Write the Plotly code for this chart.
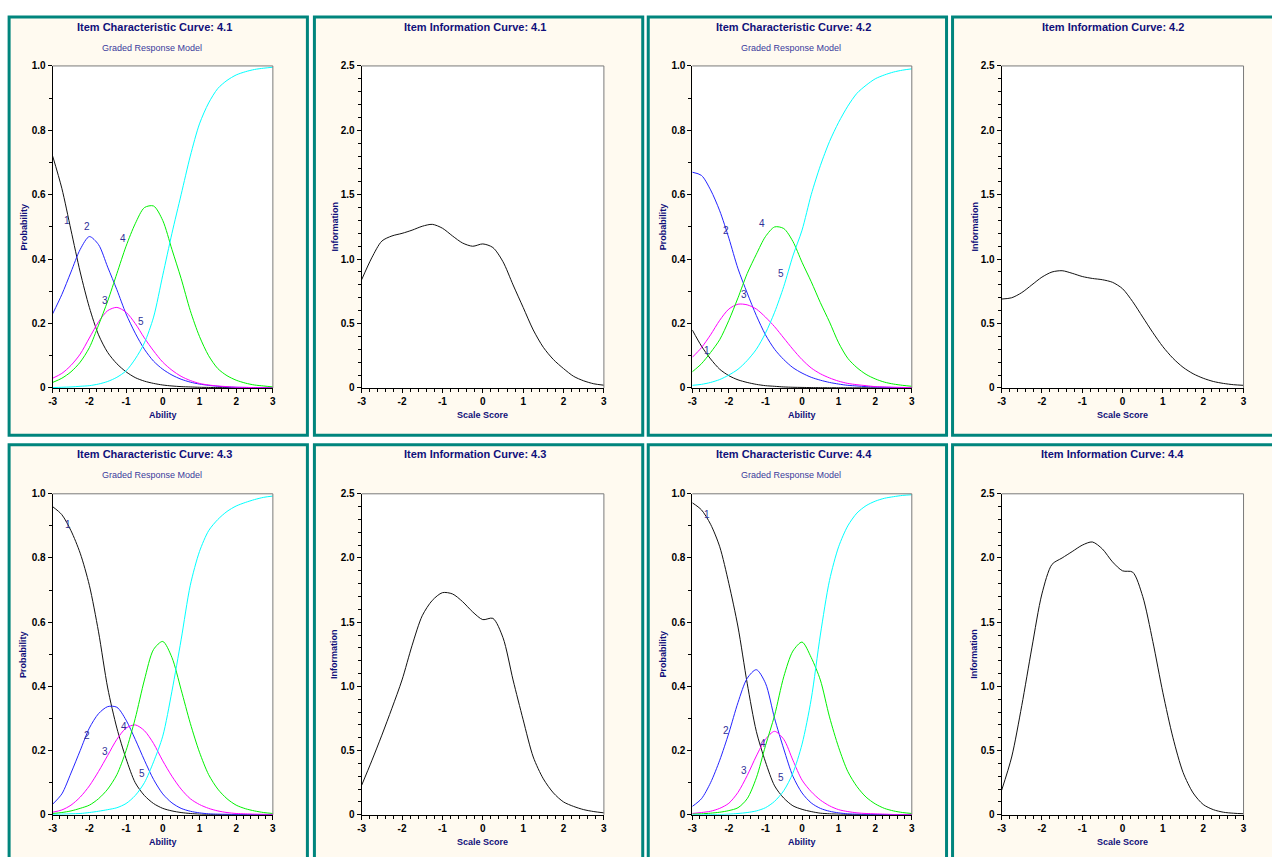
import plotly.graph_objects as go

# ---------------- data ----------------
THETA = [-3.0, -2.75, -2.5, -2.25, -2.0, -1.75, -1.5, -1.25, -1.0, -0.75, -0.5, -0.25,
         0.0, 0.25, 0.5, 0.75, 1.0, 1.25, 1.5, 1.75, 2.0, 2.25, 2.5, 2.75, 3.0]

# Item 4.1 category probabilities (categories 1..5)
icc41_c1 = [0.72, 0.62, 0.49, 0.36, 0.25, 0.165, 0.11, 0.075, 0.05, 0.032, 0.021, 0.014, 0.009, 0.006, 0.004, 0.003, 0.002, 0.0015, 0.001, 0.001, 0.0005, 0.0005, 0.0003, 0.0002, 0.0001]
icc41_c2 = [0.23, 0.29, 0.36, 0.43, 0.47, 0.445, 0.375, 0.305, 0.23, 0.17, 0.12, 0.083, 0.058, 0.04, 0.027, 0.018, 0.012, 0.008, 0.005, 0.003, 0.002, 0.0015, 0.001, 0.0007, 0.0005]
icc41_c3 = [0.03, 0.045, 0.07, 0.105, 0.155, 0.205, 0.24, 0.25, 0.235, 0.2, 0.155, 0.115, 0.08, 0.055, 0.036, 0.023, 0.014, 0.009, 0.006, 0.004, 0.002, 0.0015, 0.001, 0.0007, 0.0005]
icc41_c4 = [0.017, 0.03, 0.05, 0.08, 0.125, 0.195, 0.27, 0.355, 0.44, 0.51, 0.56, 0.565, 0.52, 0.43, 0.34, 0.24, 0.16, 0.1, 0.06, 0.038, 0.024, 0.015, 0.009, 0.006, 0.003]
icc41_c5 = [0.001, 0.002, 0.003, 0.005, 0.007, 0.012, 0.02, 0.033, 0.053, 0.09, 0.14, 0.22, 0.35, 0.48, 0.6, 0.72, 0.82, 0.885, 0.93, 0.955, 0.972, 0.982, 0.989, 0.993, 0.996]
iic41 = [0.84, 1.01, 1.14, 1.18, 1.2, 1.225, 1.255, 1.27, 1.24, 1.18, 1.125, 1.1, 1.118, 1.09, 0.98, 0.8, 0.625, 0.45, 0.315, 0.22, 0.15, 0.09, 0.055, 0.032, 0.021]

# Item 4.2
icc42_c1 = [0.18, 0.13, 0.09, 0.058, 0.038, 0.025, 0.017, 0.011, 0.007, 0.005, 0.003, 0.002, 0.0015, 0.001, 0.0008, 0.0006, 0.0005, 0.0004, 0.0003, 0.0003, 0.0002, 0.0002, 0.0002, 0.0001, 0.0001]
icc42_c2 = [0.67, 0.66, 0.615, 0.55, 0.465, 0.37, 0.295, 0.225, 0.165, 0.12, 0.088, 0.063, 0.046, 0.033, 0.024, 0.017, 0.012, 0.008, 0.006, 0.004, 0.003, 0.002, 0.0015, 0.001, 0.001]
icc42_c3 = [0.095, 0.125, 0.165, 0.21, 0.245, 0.26, 0.258, 0.245, 0.22, 0.19, 0.155, 0.12, 0.088, 0.062, 0.044, 0.031, 0.021, 0.014, 0.01, 0.007, 0.004, 0.003, 0.002, 0.0015, 0.001]
icc42_c4 = [0.05, 0.075, 0.11, 0.15, 0.21, 0.28, 0.355, 0.415, 0.47, 0.5, 0.495, 0.455, 0.39, 0.33, 0.265, 0.205, 0.14, 0.092, 0.063, 0.042, 0.028, 0.018, 0.012, 0.008, 0.005]
icc42_c5 = [0.008, 0.011, 0.017, 0.026, 0.04, 0.058, 0.085, 0.12, 0.17, 0.235, 0.315, 0.41, 0.49, 0.6, 0.69, 0.765, 0.825, 0.875, 0.915, 0.94, 0.96, 0.972, 0.981, 0.987, 0.991]
iic42 = [0.69, 0.70, 0.74, 0.80, 0.86, 0.90, 0.91, 0.89, 0.865, 0.85, 0.84, 0.82, 0.77, 0.67, 0.55, 0.43, 0.32, 0.23, 0.16, 0.11, 0.075, 0.05, 0.035, 0.025, 0.02]

# Item 4.3
icc43_c1 = [0.96, 0.935, 0.885, 0.815, 0.715, 0.57, 0.395, 0.27, 0.175, 0.1, 0.06, 0.035, 0.02, 0.012, 0.007, 0.004, 0.002, 0.001, 0.0007, 0.0005, 0.0003, 0.0002, 0.0001, 0.0001, 0.0001]
icc43_c2 = [0.033, 0.065, 0.13, 0.2, 0.27, 0.315, 0.337, 0.335, 0.295, 0.235, 0.17, 0.11, 0.065, 0.037, 0.02, 0.011, 0.006, 0.003, 0.002, 0.0015, 0.001, 0.0007, 0.0005, 0.0003, 0.0002]
icc43_c3 = [0.008, 0.015, 0.03, 0.055, 0.09, 0.135, 0.185, 0.235, 0.27, 0.28, 0.262, 0.222, 0.168, 0.12, 0.08, 0.05, 0.032, 0.02, 0.012, 0.007, 0.004, 0.003, 0.002, 0.0015, 0.001]
icc43_c4 = [0.004, 0.007, 0.012, 0.02, 0.03, 0.05, 0.08, 0.125, 0.2, 0.3, 0.42, 0.515, 0.54, 0.49, 0.39, 0.285, 0.195, 0.125, 0.08, 0.05, 0.03, 0.019, 0.012, 0.007, 0.004]
icc43_c5 = [0.001, 0.002, 0.003, 0.004, 0.007, 0.011, 0.016, 0.022, 0.035, 0.06, 0.1, 0.165, 0.245, 0.385, 0.545, 0.715, 0.82, 0.885, 0.92, 0.945, 0.962, 0.973, 0.982, 0.989, 0.993]
iic43 = [0.23, 0.42, 0.62, 0.83, 1.05, 1.32, 1.55, 1.67, 1.73, 1.72, 1.66, 1.58, 1.52, 1.53, 1.38, 1.05, 0.74, 0.45, 0.28, 0.17, 0.1, 0.065, 0.04, 0.025, 0.015]

# Item 4.4
icc44_c1 = [0.972, 0.95, 0.905, 0.835, 0.72, 0.585, 0.41, 0.26, 0.165, 0.09, 0.052, 0.028, 0.017, 0.01, 0.005, 0.003, 0.002, 0.001, 0.0007, 0.0005, 0.0003, 0.0002, 0.0001, 0.0001, 0.0001]
icc44_c2 = [0.026, 0.05, 0.1, 0.17, 0.255, 0.35, 0.425, 0.452, 0.41, 0.3, 0.205, 0.12, 0.068, 0.037, 0.02, 0.011, 0.006, 0.003, 0.002, 0.0015, 0.001, 0.0007, 0.0005, 0.0003, 0.0002]
icc44_c3 = [0.004, 0.007, 0.011, 0.02, 0.036, 0.07, 0.122, 0.183, 0.235, 0.26, 0.235, 0.17, 0.108, 0.072, 0.046, 0.028, 0.016, 0.01, 0.006, 0.004, 0.003, 0.002, 0.001, 0.001, 0.001]
icc44_c4 = [0.002, 0.003, 0.005, 0.008, 0.013, 0.022, 0.05, 0.115, 0.215, 0.31, 0.43, 0.51, 0.538, 0.49, 0.42, 0.305, 0.21, 0.135, 0.088, 0.055, 0.034, 0.02, 0.012, 0.007, 0.004]
icc44_c5 = [0.0, 0.0, 0.001, 0.001, 0.002, 0.004, 0.007, 0.012, 0.022, 0.042, 0.075, 0.13, 0.22, 0.36, 0.56, 0.73, 0.835, 0.9, 0.94, 0.963, 0.977, 0.986, 0.991, 0.995, 0.997]
iic44 = [0.19, 0.45, 0.85, 1.3, 1.72, 1.95, 2.0, 2.05, 2.1, 2.125, 2.07, 1.97, 1.9, 1.89, 1.7, 1.35, 0.95, 0.6, 0.33, 0.17, 0.08, 0.04, 0.02, 0.012, 0.008]

CATEGORY_NAMES = ["1", "2", "3", "4", "5"]
ITEMS = ["4.1", "4.2", "4.3", "4.4"]

# curve-number label positions (theta, probability) per item
label41 = [(-2.62, 0.52), (-2.07, 0.50), (-1.58, 0.27), (-1.09, 0.465), (-0.6, 0.207)]
label42 = [(-2.59, 0.117), (-2.08, 0.49), (-1.58, 0.29), (-1.09, 0.51), (-0.57, 0.356)]
label43 = [(-2.57, 0.905), (-2.07, 0.247), (-1.56, 0.197), (-1.06, 0.274), (-0.56, 0.129)]
label44 = [(-2.59, 0.936), (-2.09, 0.262), (-1.59, 0.138), (-1.08, 0.221), (-0.58, 0.115)]

X_TICKS = [-3, -2, -1, 0, 1, 2, 3]
X_TICK_TEXT = ["-3", "-2", "-1", "0", "1", "2", "3"]
P_TICKS = [0, 0.2, 0.4, 0.6, 0.8, 1.0]
P_TICK_TEXT = ["0", "0.2", "0.4", "0.6", "0.8", "1.0"]
I_TICKS = [0, 0.5, 1.0, 1.5, 2.0, 2.5]
I_TICK_TEXT = ["0", "0.5", "1.0", "1.5", "2.0", "2.5"]

icc_sets = [
    [icc41_c1, icc41_c2, icc41_c3, icc41_c4, icc41_c5],
    [icc42_c1, icc42_c2, icc42_c3, icc42_c4, icc42_c5],
    [icc43_c1, icc43_c2, icc43_c3, icc43_c4, icc43_c5],
    [icc44_c1, icc44_c2, icc44_c3, icc44_c4, icc44_c5],
]
iic_sets = [iic41, iic42, iic43, iic44]
label_sets = [label41, label42, label43, label44]

# ---------------- styling / layout ----------------
W, H = 1272, 857
CURVE_COLORS = ["#111111", "#2323ff", "#ff00ff", "#00f000", "#00ffff"]
TEAL = "#00857d"
CREAM = "#fffaf0"
NAVY = "#10107a"
FONT = "Liberation Sans, Arial, sans-serif"

# panel frames and plot boxes, in picture pixels
col_frames = [(9.5, 307.5), (314.5, 642.5), (648.0, 946.0), (952.0, 1290.0)]
row_frames = [(15.5, 434.0), (443.5, 875.0)]
icc_plot_x = [(53.0, 273.0), (692.0, 911.3)]
iic_plot_x = [(361.7, 603.7), (1001.0, 1242.7)]
row_plot_y = [(64.4, 386.7), (492.7, 814.0)]

# observed page->photo mapping of the renderer (photo = S * css + B)
SX, BX = 0.9935, 4.4
SY, BY = 0.987, 4.4


def fx(p):
    return ((p - BX) / SX) / W


def fy(p):
    return 1 - ((p - BY) / SY) / H


fig = go.Figure()
shapes = []
annotations = []
layout_axes = {}

for r, (ry0, ry1) in enumerate(row_frames):
    for c, (cx0, cx1) in enumerate(col_frames):
        shapes.append(dict(type="rect", xref="paper", yref="paper", layer="below",
                           x0=fx(cx0), x1=fx(cx1), y0=fy(ry1), y1=fy(ry0),
                           fillcolor=CREAM, line=dict(color=TEAL, width=3)))

tickfont = dict(family=FONT, size=10, color="black", weight="bold")

axis_index = 0
for k, item in enumerate(ITEMS):
    row = k // 2
    colpair = k % 2
    py0, py1 = row_plot_y[row]
    for kind in ("icc", "iic"):
        axis_index += 1
        xn = "x" if axis_index == 1 else f"x{axis_index}"
        yn = "y" if axis_index == 1 else f"y{axis_index}"
        xk = "xaxis" if axis_index == 1 else f"xaxis{axis_index}"
        yk = "yaxis" if axis_index == 1 else f"yaxis{axis_index}"
        px0, px1 = (icc_plot_x if kind == "icc" else iic_plot_x)[colpair]
        shapes.append(dict(type="rect", xref="paper", yref="paper", layer="below",
                           x0=fx(px0), x1=fx(px1), y0=fy(py1), y1=fy(py0),
                           fillcolor="white", line=dict(width=0)))
        layout_axes[xk] = dict(domain=[fx(px0), fx(px1)], range=[-3, 3], anchor=yn,
                               showgrid=False, zeroline=False, showline=True,
                               linecolor="black", linewidth=1, ticks="outside",
                               ticklen=4, tickcolor="black", tickmode="array",
                               tickvals=X_TICKS, ticktext=X_TICK_TEXT, tickfont=tickfont,
                               minor=dict(tickmode="linear", tick0=-3, dtick=0.2, ticklen=3,
                                          ticks="outside", tickcolor="black"),
                               fixedrange=True)
        if kind == "icc":
            yt, ytt, yr = P_TICKS, P_TICK_TEXT, [0, 1.0]
        else:
            yt, ytt, yr = I_TICKS, I_TICK_TEXT, [0, 2.5]
        layout_axes[yk] = dict(domain=[fy(py1), fy(py0)], range=yr, anchor=xn,
                               showgrid=False, zeroline=False, showline=True,
                               linecolor="black", linewidth=1, ticks="outside",
                               ticklen=4, tickcolor="black", tickmode="array",
                               tickvals=yt, ticktext=ytt, tickfont=tickfont,
                               minor=dict(tickmode="linear", tick0=0, dtick=0.1, ticklen=3,
                                          ticks="outside", tickcolor="black"),
                               fixedrange=True)
        shapes.append(dict(type="line", xref=f"{xn} domain", yref=f"{yn} domain",
                           x0=0, x1=1, y0=1, y1=1, line=dict(color="#7a7a7a", width=1)))
        shapes.append(dict(type="line", xref=f"{xn} domain", yref=f"{yn} domain",
                           x0=1, x1=1, y0=0, y1=1, line=dict(color="#7a7a7a", width=1)))

        cx0, cx1 = col_frames[colpair * 2 + (0 if kind == "icc" else 1)]
        ry0, _ = row_frames[row]
        if kind == "icc":
            for ci, series in enumerate(icc_sets[k]):
                fig.add_trace(go.Scatter(x=THETA, y=series, mode="lines", xaxis=xn, yaxis=yn,
                                         line=dict(color=CURVE_COLORS[ci], width=1, shape="spline",
                                                   smoothing=0.8),
                                         showlegend=False, hoverinfo="skip"))
            for ci, (lx, ly) in enumerate(label_sets[k]):
                annotations.append(dict(x=lx, y=ly, xref=xn, yref=yn, text=CATEGORY_NAMES[ci],
                                        showarrow=False,
                                        font=dict(family=FONT, size=10, color="#303098")))
            annotations.append(dict(x=fx(cx0 + 145.5), y=fy(ry0 + 9.5), xref="paper", yref="paper",
                                    text=f"Item Characteristic Curve: {item}", showarrow=False,
                                    xanchor="center", yanchor="middle",
                                    font=dict(family=FONT, size=11, color=NAVY, weight="bold")))
            annotations.append(dict(x=fx(cx0 + 143.0), y=fy(ry0 + 30.5), xref="paper", yref="paper",
                                    text="Graded Response Model", showarrow=False,
                                    xanchor="center", yanchor="middle",
                                    font=dict(family=FONT, size=9, color="#3a3a9c")))
            xt, ytl = "Ability", "Probability"
        else:
            fig.add_trace(go.Scatter(x=THETA, y=iic_sets[k], mode="lines", xaxis=xn, yaxis=yn,
                                     line=dict(color="#111111", width=1, shape="spline",
                                               smoothing=0.8),
                                     showlegend=False, hoverinfo="skip"))
            annotations.append(dict(x=fx(cx0 + 160.0), y=fy(ry0 + 9.5), xref="paper", yref="paper",
                                    text=f"Item Information Curve: {item}", showarrow=False,
                                    xanchor="center", yanchor="middle",
                                    font=dict(family=FONT, size=11, color=NAVY, weight="bold")))
            xt, ytl = "Scale Score", "Information"
        annotations.append(dict(x=fx((px0 + px1) / 2), y=fy(py1 + 27.5), xref="paper", yref="paper",
                                text=xt, showarrow=False, xanchor="center", yanchor="middle",
                                font=dict(family=FONT, size=9, color=NAVY, weight="bold")))
        annotations.append(dict(x=fx(px0 - 29.0 if kind == "icc" else px0 - 27.0),
                                y=fy((py0 + py1) / 2), xref="paper", yref="paper",
                                text=ytl, showarrow=False, textangle=-90,
                                xanchor="center", yanchor="middle",
                                font=dict(family=FONT, size=9, color=NAVY, weight="bold")))

fig.update_layout(width=W, height=H, margin=dict(l=0, r=0, t=0, b=0),
                  paper_bgcolor="white", plot_bgcolor="rgba(0,0,0,0)",
                  shapes=shapes, annotations=annotations, showlegend=False,
                  **layout_axes)

fig.write_html("out.html", config={"displayModeBar": False},
               post_script="document.body.style.margin='0';document.body.style.overflow='hidden';")
